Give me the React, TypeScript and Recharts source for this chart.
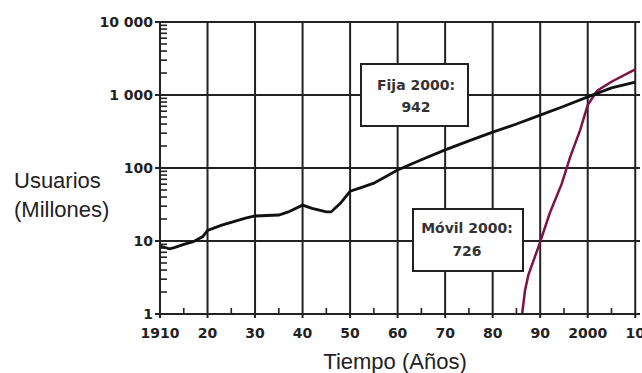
import React from 'react';
import { ComposedChart, Line, Scatter, XAxis, YAxis, CartesianGrid } from 'recharts';

const fijaYears = [1910, 1912, 1913, 1915, 1917, 1919, 1920, 1923, 1928, 1930, 1935, 1937, 1940, 1942, 1945, 1946, 1948, 1950, 1952, 1955, 1960, 1965, 1970, 1975, 1980, 1985, 1990, 1995, 2000, 2005, 2010];
const fijaValues = [8.5, 7.8, 8.1, 9, 9.8, 11.5, 14, 16.5, 20.6, 22, 22.7, 25, 31, 28, 25, 25, 33, 48, 53, 62, 94, 130, 177, 235, 310, 400, 530, 700, 942, 1250, 1500];

const movilYears = [1986.2, 1986.8, 1987.5, 1990, 1992, 1994.5, 1996.3, 1998.4, 2000, 2002, 2005, 2010];
const movilValues = [1, 2.1, 3.4, 9.7, 24, 60, 141, 330, 726, 1150, 1520, 2250];

const xMajorTicks = [1910, 1920, 1930, 1940, 1950, 1960, 1970, 1980, 1990, 2000, 2010];
const xTickLabels = ['1910', '20', '30', '40', '50', '60', '70', '80', '90', '2000', '10'];
const xMinorTicks = [1915, 1925, 1935, 1945, 1955, 1965, 1975, 1985, 1995, 2005];

const yMajorTicks = [1, 10, 100, 1000, 10000];
const yTickLabels = ['1', '10', '100', '1 000', '10 000'];
const yMinorTicks = [2, 3, 4, 5, 6, 7, 8, 9, 20, 30, 40, 50, 60, 70, 80, 90, 200, 300, 400, 500, 600, 700, 800, 900, 2000, 3000, 4000, 5000, 6000, 7000, 8000, 9000];

const fijaData = fijaYears.map((year, i) => ({ year, v: fijaValues[i] }));
const movilData = movilYears.map((year, i) => ({ year, v: movilValues[i] }));
const xMinorData = xMinorTicks.map((year) => ({ year, v: yMajorTicks[0] }));
const yMinorData = yMinorTicks.map((v) => ({ year: xMajorTicks[0], v }));

const INK = '#222';
const TICK_FONT = { fontFamily: 'DejaVu Sans', fontWeight: 700, fontSize: 14, fill: INK };

const XTick = (props: any) => {
  const { x, y, payload } = props;
  const i = xMajorTicks.indexOf(payload.value);
  return (
    <g>
      <line x1={x} x2={x} y1={y} y2={y + 4} stroke={INK} strokeWidth={2} />
      <text x={x} y={y + 24} textAnchor="middle" {...TICK_FONT}>{xTickLabels[i]}</text>
    </g>
  );
};

const YTick = (props: any) => {
  const { x, y, payload } = props;
  const i = yMajorTicks.indexOf(payload.value);
  return (
    <g>
      <line x1={x - 5} x2={x} y1={y} y2={y} stroke={INK} strokeWidth={2} />
      <text x={x - 7} y={y + 5} textAnchor="end" {...TICK_FONT}>{yTickLabels[i]}</text>
    </g>
  );
};

const XMinorMark = (p: any) => <line x1={p.cx} x2={p.cx} y1={p.cy} y2={p.cy - 6} stroke={INK} strokeWidth={1.6} />;
const YMinorMark = (p: any) => <line x1={p.cx} x2={p.cx + 7} y1={p.cy} y2={p.cy} stroke={INK} strokeWidth={1.6} />;

export default function App() {
  return (
    <div style={{ position: 'absolute', left: 0, top: 0, width: 642, height: 373, background: '#fff' }}>
      <ComposedChart width={642} height={373} margin={{ top: 22, right: 2, bottom: 29, left: 100 }}>
        <CartesianGrid stroke={INK} strokeWidth={2} horizontalValues={yMajorTicks} verticalValues={xMajorTicks} />
        <XAxis
          dataKey="year"
          type="number"
          domain={[1910, 2011]}
          allowDataOverflow
          ticks={xMajorTicks}
          interval={0}
          height={30}
          tickSize={0}
          tickMargin={0}
          tickLine={false}
          tick={<XTick />}
          axisLine={{ stroke: INK, strokeWidth: 2 }}
        />
        <YAxis
          type="number"
          scale="log"
          domain={[1, 10000]}
          allowDataOverflow
          ticks={yMajorTicks}
          interval={0}
          width={60}
          tickSize={0}
          tickMargin={0}
          tickLine={false}
          tick={<YTick />}
          axisLine={{ stroke: INK, strokeWidth: 2 }}
        />
        <Scatter data={xMinorData} dataKey="v" shape={(p: any) => <XMinorMark {...p} />} isAnimationActive={false} />
        <Scatter data={yMinorData} dataKey="v" shape={(p: any) => <YMinorMark {...p} />} isAnimationActive={false} />
        <Line data={movilData} dataKey="v" type="linear" stroke="#7d1446" strokeWidth={2.5} dot={false} isAnimationActive={false} />
        <Line data={fijaData} dataKey="v" type="linear" stroke="#111" strokeWidth={2.8} dot={false} isAnimationActive={false} />
      </ComposedChart>
      <svg width={642} height={373} style={{ position: 'absolute', left: 0, top: 0, pointerEvents: 'none' }}>
        <g fontFamily="Liberation Sans, Arial, sans-serif" fontSize={22} fill="#222">
          <text x={14} y={188}>Usuarios</text>
          <text x={14} y={217}>(Millones)</text>
          <text x={395} y={369} textAnchor="middle">Tiempo (Años)</text>
        </g>
        <rect x={361} y={64} width={107} height={62} fill="#fff" stroke={INK} strokeWidth={2} />
        <rect x={413} y={209} width={110} height={62} fill="#fff" stroke={INK} strokeWidth={2} />
        <g fontFamily="DejaVu Sans" fontWeight={700} fontSize={14} fill="#333" textAnchor="middle">
          <text x={416} y={90}>Fija 2000:</text>
          <text x={416} y={112}>942</text>
          <text x={467} y={233}>Móvil 2000:</text>
          <text x={467} y={256}>726</text>
        </g>
      </svg>
    </div>
  );
}
